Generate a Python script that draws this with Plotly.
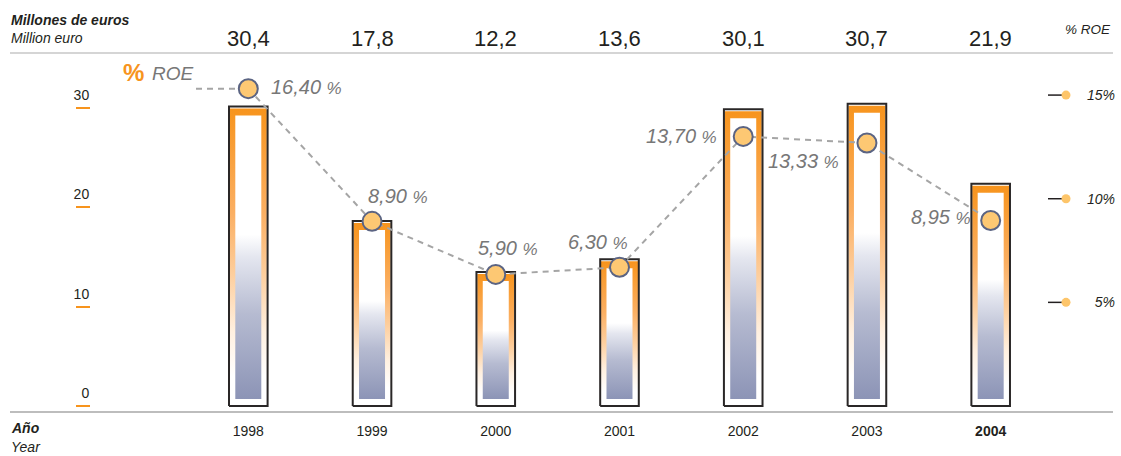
import plotly.graph_objects as go

# ---------------- data ----------------
years = [1998, 1999, 2000, 2001, 2002, 2003, 2004]
year_labels = ["1998", "1999", "2000", "2001", "2002", "2003", "<b>2004</b>"]
profit = [30.4, 17.8, 12.2, 13.6, 30.1, 30.7, 21.9]          # millones de euros
roe = [16.40, 8.90, 5.90, 6.30, 13.70, 13.33, 8.95]          # % ROE
roe_text = ["16,40", "8,90", "5,90", "6,30", "13,70", "13,33", "8,95"]
left_ticks = [0, 10, 20, 30]
right_ticks = [5, 10, 15]
right_ticktext = ["5%", "10%", "15%"]

# ---------------- layout helpers ----------------
W, H = 1121, 456
def px(x):
    return x / W
def py(y):
    return 1 - y / H

FONT = "Liberation Sans, Arial, Helvetica, sans-serif"
DARK = "#231F20"
GREY = "#777777"

spacing = 123.73            # px per category
x0_px = 248.3               # px of first category
x_range = [years[0] + (10 - x0_px) / spacing, years[0] + (1113 - x0_px) / spacing]

# the drawn bars use their own scale (base axis, hidden), as in the original artwork
bar_px_per_unit = 9.091
bar_zero_px = 382.9
def bar_val(pix):
    return (bar_zero_px - pix) / bar_px_per_unit
bar_range = [bar_val(411), bar_val(53)]
bar_base = bar_val(406)

# bar geometry (styling)
half_outer = 19.3 / spacing
half_orange = 18.5 / spacing
half_inner = 13.0 / spacing
orange_top_gap = 2 / bar_px_per_unit
inner_top_gap = 9 / bar_px_per_unit
inner_bottom = bar_val(399)

orange_scale = [[0.0, "#FFFFFF"], [0.10, "#FFFFFF"], [0.25, "#FFF0E0"],
                [0.45, "#FDCD9B"], [0.65, "#FBAF62"], [1.0, "#F7941D"]]
inner_scale = [[0.0, "#8C94B6"], [0.30, "#B6BBD1"], [0.50, "#E4E6EF"],
               [0.58, "#FFFFFF"], [1.0, "#FFFFFF"]]

fig = go.Figure()

for yr, v in zip(years, profit):
    xs_outer = [yr - half_outer, yr + half_outer, yr + half_outer, yr - half_outer, yr - half_outer]
    ys_outer = [bar_base, bar_base, v, v, bar_base]
    # white base
    fig.add_trace(go.Scatter(x=xs_outer, y=ys_outer, mode="lines",
                             fill="toself", fillcolor="white", line=dict(width=0),
                             hoverinfo="skip"))
    # orange frame gradient
    fig.add_trace(go.Scatter(
        x=[yr - half_orange, yr + half_orange, yr + half_orange, yr - half_orange, yr - half_orange],
        y=[bar_base, bar_base, v - orange_top_gap, v - orange_top_gap, bar_base],
        mode="lines", fill="toself",
        fillgradient=dict(type="vertical", colorscale=orange_scale),
        line=dict(width=0), hoverinfo="skip"))
    # inner gradient
    fig.add_trace(go.Scatter(
        x=[yr - half_inner, yr + half_inner, yr + half_inner, yr - half_inner, yr - half_inner],
        y=[inner_bottom, inner_bottom, v - inner_top_gap, v - inner_top_gap, inner_bottom],
        mode="lines", fill="toself",
        fillgradient=dict(type="vertical", colorscale=inner_scale),
        line=dict(width=0), hoverinfo="skip"))
    # dark outline
    fig.add_trace(go.Scatter(x=xs_outer, y=ys_outer, mode="lines",
                             line=dict(color="#2A2727", width=2), hoverinfo="skip"))

# ROE line with circles
fig.add_trace(go.Scatter(
    x=years, y=roe, yaxis="y3", mode="lines+markers",
    line=dict(color="#A5A5A5", width=2, dash="6px,5px"),
    marker=dict(size=19, color="#FDC873", line=dict(color="#5B6483", width=2)),
    hoverinfo="skip"))

# empty traces so that the two visible value axes get registered as subplots
fig.add_trace(go.Scatter(x=[None], y=[None], yaxis="y4", mode="markers",
                         showlegend=False, hoverinfo="skip"))
fig.add_trace(go.Scatter(x=[None], y=[None], yaxis="y2", mode="markers",
                         showlegend=False, hoverinfo="skip"))

shapes = []
# top grey rule
shapes.append(dict(type="line", xref="paper", yref="paper", x0=px(10), x1=px(1113),
                   y0=py(53), y1=py(53), line=dict(color="#D5D5D5", width=2)))
# leader dashed line from legend to first circle
shapes.append(dict(type="line", xref="paper", yref="y3", x0=px(196), x1=px(245),
                   y0=roe[0], y1=roe[0], layer="below",
                   line=dict(color="#A5A5A5", width=2, dash="6px,5px")))
# right-axis tick marks with dots
for t in right_ticks:
    shapes.append(dict(type="line", xref="paper", yref="y2", x0=px(1048), x1=px(1062),
                       y0=t, y1=t, line=dict(color=DARK, width=1.5)))
    shapes.append(dict(type="circle", xref="paper", yref="y2",
                       xsizemode="pixel", ysizemode="pixel",
                       xanchor=px(1066), yanchor=t, x0=-4.5, x1=4.5, y0=-4.5, y1=4.5,
                       fillcolor="#FDC56A", line=dict(width=0)))

annotations = []
def ann(text, x, y, size, color=DARK, xanchor="left", style="normal", weight="normal"):
    annotations.append(dict(text=text, x=px(x), y=py(y), xref="paper", yref="paper",
                            xanchor=xanchor, yanchor="middle", showarrow=False,
                            font=dict(family=FONT, size=size, color=color, style=style, weight=weight)))

ann("Millones de euros", 9, 20, 14, style="italic", weight="bold")
ann("Million euro", 9, 38, 14, style="italic")
ann("% ROE", 1113, 29.5, 13.5, xanchor="right", style="italic")
ann("%", 121, 72, 24, color="#F7941D", weight="bold")
ann("ROE", 150, 74, 19, color=GREY, style="italic")
ann("Año", 9, 428, 14, style="italic", weight="bold")
ann("Year", 9, 447, 14, style="italic")

# value labels above chart
for yr, v in zip(years, profit):
    annotations.append(dict(text=f"{v:.1f}".replace(".", ","), x=yr, y=py(39),
                            xref="x", yref="paper", xanchor="center", yanchor="middle",
                            showarrow=False, font=dict(family=FONT, size=22, color=DARK)))

# ROE value labels (anchor, xshift, yshift)
label_pos = [("left", 21, 2), ("left", -6, 25), ("left", -20, 26), ("left", -53, 25),
             ("right", -24, 0), ("right", -26, -18), ("right", -18, 3)]
for yr, r, t, (xa, dx, dy) in zip(years, roe, roe_text, label_pos):
    annotations.append(dict(
        text=f"{t} <span style='font-size:17px'>%</span>", x=yr, y=r, xref="x", yref="y3",
        xanchor=xa, yanchor="middle", xshift=dx, yshift=dy, showarrow=False,
        font=dict(family=FONT, size=20, color=GREY, style="italic")))

y_dom = [py(411), py(53)]
fig.update_layout(
    width=W, height=H, margin=dict(l=0, r=0, t=0, b=0, autoexpand=False),
    paper_bgcolor="white", plot_bgcolor="white", showlegend=False,
    font=dict(family=FONT, color=DARK),
    xaxis=dict(domain=[px(10), px(1113)], range=x_range, showgrid=False, zeroline=False,
               showline=True, linecolor="#BDBDBD", linewidth=2, automargin=False,
               tickvals=years, ticktext=year_labels, ticks="",
               tickfont=dict(family=FONT, size=14, color=DARK), ticklabelstandoff=6),
    # base axis: scale of the drawn bars (hidden)
    yaxis=dict(domain=y_dom, range=bar_range, showgrid=False, zeroline=False,
               showline=False, showticklabels=False, ticks="", automargin=False),
    # visible right axis (% ROE)
    yaxis2=dict(overlaying="y", range=[-0.241, 17.03], anchor="free", position=px(1115),
                side="left", showgrid=False, zeroline=False, showline=False, ticks="",
                automargin=False,
                tickvals=right_ticks, ticktext=right_ticktext,
                tickfont=dict(family=FONT, size=14, color=DARK, style="italic")),
    # scale of the drawn ROE points (hidden)
    yaxis3=dict(overlaying="y", range=[-1.820, 18.417], visible=False, automargin=False),
    # visible left axis (millones de euros)
    yaxis4=dict(overlaying="y", range=[-0.503, 35.54], anchor="free", position=px(90),
                side="left", showgrid=False, zeroline=False, showline=False, automargin=False,
                tickvals=left_ticks, ticks="outside", ticklen=14, tickwidth=2,
                tickcolor="#F7941D", tickfont=dict(family=FONT, size=14, color=DARK),
                ticklabelshift=-13, ticklabelstandoff=-16),
    shapes=shapes, annotations=annotations,
)

fig.write_html("out.html")
